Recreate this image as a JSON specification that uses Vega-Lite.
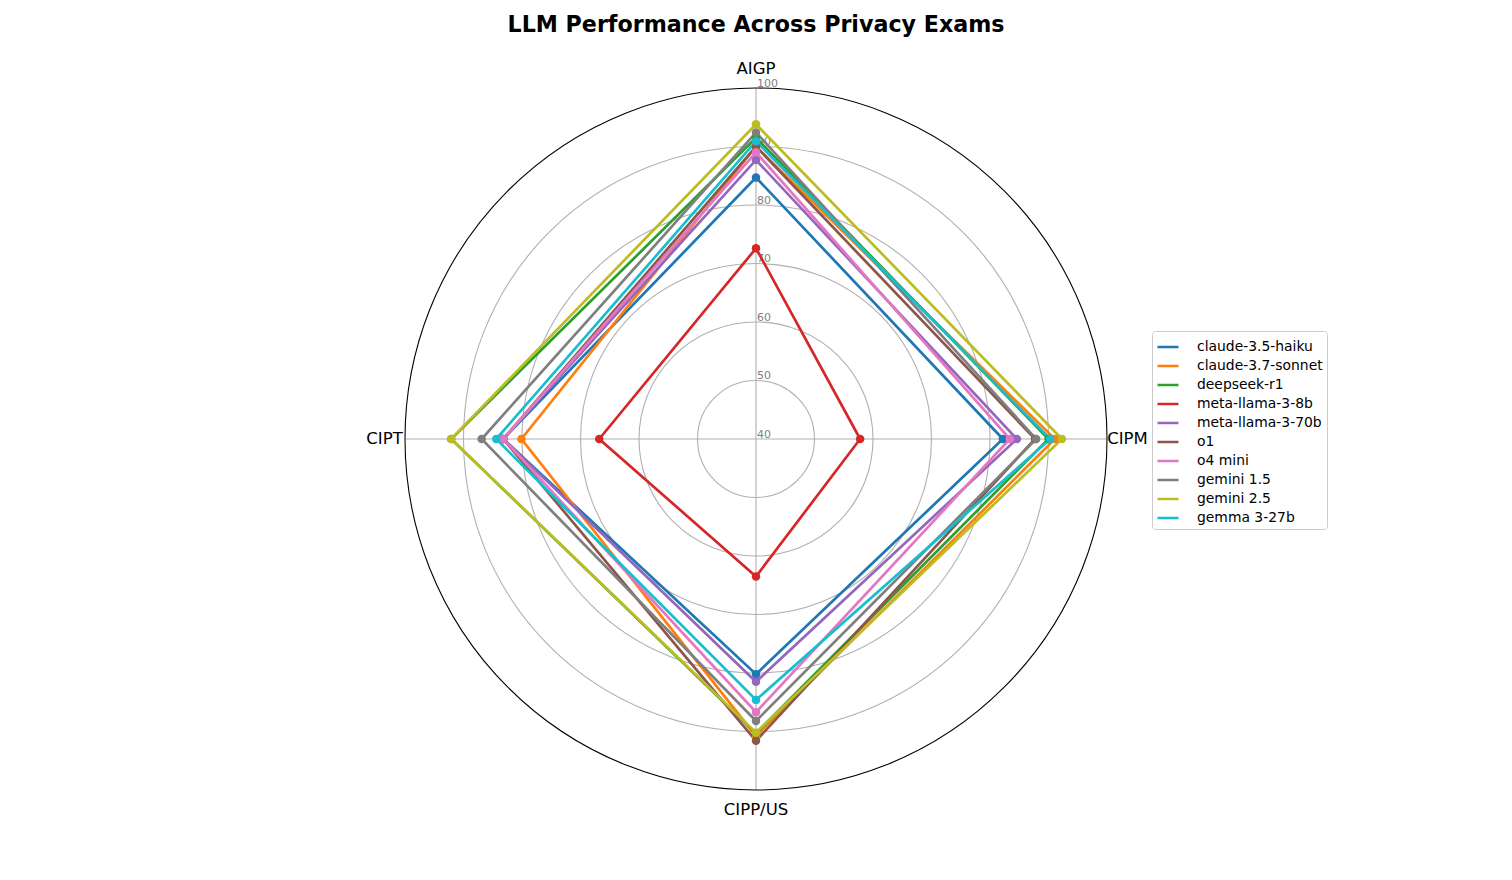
{
  "$schema": "https://vega.github.io/schema/vega-lite/v6.json",
  "width": 1512,
  "height": 880,
  "autosize": {"type": "fit", "contains": "padding"},
  "padding": 0,
  "config": {"view": {"stroke": null}, "font": "DejaVu Sans"},
  "data": {
    "values": [
      {"model": "claude-3.5-haiku", "exam": "AIGP", "score": 84.7},
      {"model": "claude-3.5-haiku", "exam": "CIPM", "score": 82.2},
      {"model": "claude-3.5-haiku", "exam": "CIPP/US", "score": 80.2},
      {"model": "claude-3.5-haiku", "exam": "CIPT", "score": 83.2}
    ]
  },
  "layer": [
    {
      "data": {"values": [{"ring": 50}, {"ring": 60}, {"ring": 70}, {"ring": 80}, {"ring": 90}]},
      "transform": [
        {"calculate": "datum.ring - 40", "as": "u"},
        {"calculate": "0", "as": "c"}
      ],
      "mark": {"type": "point", "shape": "circle", "filled": false, "stroke": "#b0b0b0", "strokeWidth": 1.1, "opacity": 1},
      "encoding": {
        "x": {"field": "c", "type": "quantitative", "axis": null},
        "y": {"field": "c", "type": "quantitative", "axis": null},
        "size": {"field": "u", "type": "quantitative", "scale": {"type": "pow", "exponent": 2, "domain": [0, 60], "range": [0, 492804]}, "legend": null}
      }
    },
    {
      "data": {"values": [{"exam": "AIGP"}, {"exam": "CIPM"}, {"exam": "CIPP/US"}, {"exam": "CIPT"}]},
      "transform": [
        {"calculate": "datum.exam === 'CIPM' ? 60 : (datum.exam === 'CIPT' ? -60 : 0)", "as": "sx"},
        {"calculate": "datum.exam === 'AIGP' ? 60 : (datum.exam === 'CIPP/US' ? -60 : 0)", "as": "sy"},
        {"calculate": "0", "as": "c"}
      ],
      "mark": {"type": "rule", "stroke": "#b0b0b0", "strokeWidth": 1.1},
      "encoding": {
        "x": {"field": "c", "type": "quantitative", "axis": null},
        "y": {"field": "c", "type": "quantitative", "axis": null},
        "x2": {"field": "sx"},
        "y2": {"field": "sy"}
      }
    },
    {
      "data": {"values": [{"ring": 100}]},
      "transform": [
        {"calculate": "datum.ring - 40", "as": "u"},
        {"calculate": "0", "as": "c"}
      ],
      "mark": {"type": "point", "shape": "circle", "filled": false, "stroke": "black", "strokeWidth": 1.1, "opacity": 1},
      "encoding": {
        "x": {"field": "c", "type": "quantitative", "axis": null},
        "y": {"field": "c", "type": "quantitative", "axis": null},
        "size": {"field": "u", "type": "quantitative", "scale": {"type": "pow", "exponent": 2, "domain": [0, 60], "range": [0, 492804]}, "legend": null}
      }
    },
    {
      "data": {"values": [{"ring": 40}, {"ring": 50}, {"ring": 60}, {"ring": 70}, {"ring": 80}, {"ring": 90}, {"ring": 100}]},
      "transform": [
        {"calculate": "datum.ring - 40", "as": "u"},
        {"calculate": "0", "as": "c"}
      ],
      "mark": {"type": "text", "align": "left", "baseline": "alphabetic", "dx": 1, "dy": -1, "fontSize": 11, "color": "#808080", "font": "DejaVu Sans"},
      "encoding": {
        "x": {"field": "c", "type": "quantitative", "axis": null},
        "y": {"field": "u", "type": "quantitative", "axis": null},
        "text": {"field": "ring", "type": "quantitative"}
      }
    },
    {
      "data": {"values": [{"exam": "AIGP"}, {"exam": "CIPM"}, {"exam": "CIPP/US"}, {"exam": "CIPT"}]},
      "transform": [
        {"calculate": "datum.exam === 'CIPM' ? 63.5 : (datum.exam === 'CIPT' ? -63.5 : 0)", "as": "lx"},
        {"calculate": "datum.exam === 'AIGP' ? 63.3 : (datum.exam === 'CIPP/US' ? -63.5 : 0)", "as": "ly"}
      ],
      "mark": {"type": "text", "align": "center", "baseline": "middle", "fontSize": 16.5, "color": "black", "font": "DejaVu Sans"},
      "encoding": {
        "x": {"field": "lx", "type": "quantitative", "axis": null},
        "y": {"field": "ly", "type": "quantitative", "axis": null},
        "text": {"field": "exam", "type": "nominal"}
      }
    },
    {
      "data": {"values": [{"title": "LLM Performance Across Privacy Exams"}]},
      "transform": [
        {"calculate": "0", "as": "tx"},
        {"calculate": "70.8", "as": "ty"}
      ],
      "mark": {"type": "text", "align": "center", "baseline": "middle", "fontSize": 22.2, "fontWeight": "bold", "color": "black", "font": "DejaVu Sans"},
      "encoding": {
        "x": {"field": "tx", "type": "quantitative", "axis": null},
        "y": {"field": "ty", "type": "quantitative", "axis": null},
        "text": {"field": "title", "type": "nominal"}
      }
    },
    {
      "data": {
        "values": [
          {"model": "claude-3.5-haiku", "exam": "AIGP", "score": 84.7},
          {"model": "claude-3.5-haiku", "exam": "CIPM", "score": 82.2},
          {"model": "claude-3.5-haiku", "exam": "CIPP/US", "score": 80.2},
          {"model": "claude-3.5-haiku", "exam": "CIPT", "score": 83.2},
          {"model": "claude-3.7-sonnet", "exam": "AIGP", "score": 90.0},
          {"model": "claude-3.7-sonnet", "exam": "CIPM", "score": 91.1},
          {"model": "claude-3.7-sonnet", "exam": "CIPP/US", "score": 90.8},
          {"model": "claude-3.7-sonnet", "exam": "CIPT", "score": 80.1},
          {"model": "deepseek-r1", "exam": "AIGP", "score": 91.5},
          {"model": "deepseek-r1", "exam": "CIPM", "score": 90.0},
          {"model": "deepseek-r1", "exam": "CIPP/US", "score": 90.3},
          {"model": "deepseek-r1", "exam": "CIPT", "score": 92.1},
          {"model": "meta-llama-3-8b", "exam": "AIGP", "score": 72.6},
          {"model": "meta-llama-3-8b", "exam": "CIPM", "score": 57.8},
          {"model": "meta-llama-3-8b", "exam": "CIPP/US", "score": 63.5},
          {"model": "meta-llama-3-8b", "exam": "CIPT", "score": 66.8},
          {"model": "meta-llama-3-70b", "exam": "AIGP", "score": 87.7},
          {"model": "meta-llama-3-70b", "exam": "CIPM", "score": 84.6},
          {"model": "meta-llama-3-70b", "exam": "CIPP/US", "score": 81.5},
          {"model": "meta-llama-3-70b", "exam": "CIPT", "score": 83.2},
          {"model": "o1", "exam": "AIGP", "score": 90.0},
          {"model": "o1", "exam": "CIPM", "score": 87.7},
          {"model": "o1", "exam": "CIPP/US", "score": 91.6},
          {"model": "o1", "exam": "CIPT", "score": 83.2},
          {"model": "o4 mini", "exam": "AIGP", "score": 89.0},
          {"model": "o4 mini", "exam": "CIPM", "score": 83.4},
          {"model": "o4 mini", "exam": "CIPP/US", "score": 86.7},
          {"model": "o4 mini", "exam": "CIPT", "score": 83.2},
          {"model": "gemini 1.5", "exam": "AIGP", "score": 92.4},
          {"model": "gemini 1.5", "exam": "CIPM", "score": 87.9},
          {"model": "gemini 1.5", "exam": "CIPP/US", "score": 88.2},
          {"model": "gemini 1.5", "exam": "CIPT", "score": 86.9},
          {"model": "gemini 2.5", "exam": "AIGP", "score": 93.8},
          {"model": "gemini 2.5", "exam": "CIPM", "score": 92.3},
          {"model": "gemini 2.5", "exam": "CIPP/US", "score": 90.2},
          {"model": "gemini 2.5", "exam": "CIPT", "score": 92.1},
          {"model": "gemma 3-27b", "exam": "AIGP", "score": 90.9},
          {"model": "gemma 3-27b", "exam": "CIPM", "score": 90.3},
          {"model": "gemma 3-27b", "exam": "CIPP/US", "score": 84.6},
          {"model": "gemma 3-27b", "exam": "CIPT", "score": 84.4}
        ]
      },
      "transform": [
        {"calculate": "datum.exam === 'CIPM' ? datum.score - 40 : (datum.exam === 'CIPT' ? 40 - datum.score : 0)", "as": "px"},
        {"calculate": "datum.exam === 'AIGP' ? datum.score - 40 : (datum.exam === 'CIPP/US' ? 40 - datum.score : 0)", "as": "py"}
      ],
      "mark": {"type": "line", "interpolate": "linear-closed", "strokeWidth": 2.7, "point": {"filled": true, "size": 72, "opacity": 1}},
      "encoding": {
        "x": {"field": "px", "type": "quantitative", "scale": {"domain": [-129.2308, 129.2308], "nice": false, "zero": false}, "axis": null},
        "y": {"field": "py", "type": "quantitative", "scale": {"domain": [-75.3846, 75.0427], "nice": false, "zero": false}, "axis": null},
        "order": {"field": "exam", "type": "ordinal"},
        "color": {
          "field": "model",
          "type": "nominal",
          "scale": {
            "domain": ["claude-3.5-haiku", "claude-3.7-sonnet", "deepseek-r1", "meta-llama-3-8b", "meta-llama-3-70b", "o1", "o4 mini", "gemini 1.5", "gemini 2.5", "gemma 3-27b"],
            "range": ["#1f77b4", "#ff7f0e", "#2ca02c", "#d62728", "#9467bd", "#8c564b", "#e377c2", "#7f7f7f", "#bcbd22", "#17becf"]
          },
          "legend": {
            "title": null,
            "orient": "none",
            "legendX": 1152,
            "legendY": 331,
            "symbolType": "stroke",
            "symbolSize": 441,
            "symbolStrokeWidth": 2.5,
            "labelFontSize": 13.9,
            "labelColor": "black",
            "labelOffset": 17,
            "labelLimit": 300,
            "rowPadding": 0,
            "padding": 4,
            "strokeColor": "#cccccc",
            "fillColor": "white",
            "cornerRadius": 3
          }
        }
      }
    }
  ]
}
